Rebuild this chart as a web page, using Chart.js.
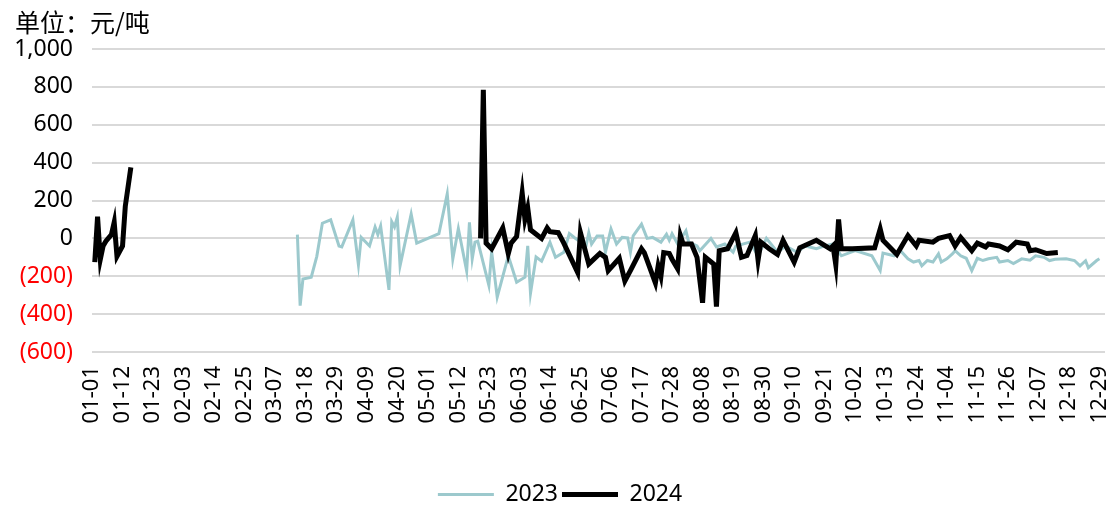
<!DOCTYPE html>
<html>
<head>
<meta charset="utf-8">
<script src="https://cdn.jsdelivr.net/npm/chart.js@4/dist/chart.umd.min.js"></script>
<style>
    body { margin: 0; background: #fff; }
</style>
</head>
<body>
<canvas id="spreadChart" width="1109" height="506"></canvas>
<script>
// x = day of year (01-01 = 0), tick every 11 days
const tickLabels = ['01-01', '01-12', '01-23', '02-03', '02-14', '02-25', '03-07', '03-18', '03-29', '04-09',
    '04-20', '05-01', '05-12', '05-23', '06-03', '06-14', '06-25', '07-06', '07-17', '07-28', '08-08', '08-19',
    '08-30', '09-10', '09-21', '10-02', '10-13', '10-24', '11-04', '11-15', '11-26', '12-07', '12-18', '12-29'];

const days2023 = [74, 75, 76, 79, 81, 83, 86, 89, 90, 94, 96, 97, 100, 102, 103, 104, 107, 108, 109, 110, 111, 115,
    117, 125, 128, 130, 132, 135, 136, 137, 138, 139, 143, 144, 146, 150, 153, 156, 157, 158, 160, 162, 165, 167,
    170, 172, 174, 178, 179, 180, 182, 184, 185, 187, 189, 191, 193, 194, 195, 198, 200, 202, 205, 207, 208, 209,
    211, 214, 215, 218, 219, 223, 225, 228, 231, 232, 237, 240, 243, 247, 250, 254, 257, 261, 264, 267, 270, 275,
    281, 284, 285, 289, 291, 294, 296, 298, 299, 301, 303, 305, 306, 308, 310, 311, 313, 315, 317, 319, 321, 323,
    326, 327, 330, 332, 335, 338, 340, 343, 345, 347, 351, 354, 356, 358, 359, 362, 363];
const vals2023 = [20, -355, -215, -205, -95, 80, 98, -40, -45, 98, -140, 5, -40, 60, 20, 65, -272, 88, 60, 112, -145, 128,
    -25, 25, 235, -110, 52, -172, 85, -108, -20, -15, -248, -70, -310, -92, -232, -205, -40, -290, -98, -120, -20, -100,
    -73, 25, 2, -40, 30, -30, 13, 13, -73, 50, -30, 5, 2, -73, 13, 75, 0, 5, -20, 22, -10, 25,
    -30, 40, -20, -40, -65, 0, -45, -30, -73, -40, -20, -92, 0, -73, -40, -73, -40, -55, -40, -30, -92, -65,
    -92, -170, -78, -92, -60, -108, -125, -117, -145, -117, -125, -82, -125, -108, -82, -65, -92, -105, -170, -105, -117, -108,
    -100, -125, -117, -133, -108, -115, -92, -100, -117, -110, -108, -117, -145, -118, -155, -117, -108];

const days2024 = [1, 2, 3, 4, 5, 7, 8, 9, 11, 12, 14,
    140, 141, 142, 144, 148, 150, 151, 153, 155, 156, 157, 158, 162, 164, 165, 168, 170, 175, 176, 179, 183, 185,
    186, 190, 192, 194, 198, 199, 203, 204, 205, 206, 208, 209, 211, 212, 213, 216, 218, 220, 221, 224, 225, 226,
    229, 232, 234, 236, 239, 240, 241, 244, 247, 249, 253, 255, 261, 266, 267, 268, 269, 270, 274, 282, 284, 285,
    290, 294, 297, 298, 303, 305, 309, 311, 313, 317, 319, 322, 323, 327, 330, 333, 337, 338, 340, 344, 348];
const vals2024 = [-125, 115, -110, -40, -15, 20, 85, -95, -40, 170, 375,
    0, 785, -25, -55, 55, -80, -25, 10, 240, 100, 160, 45, 0, 55, 35, 30, -25, -180, 30, -135, -80, -100,
    -170, -105, -225, -170, -55, -75, -235, -145, -200, -75, -80, -110, -160, 15, -30, -30, -100, -340, -100, -135, -360, -65,
    -55, 30, -100, -90, 15, -115, -20, -55, -85, -10, -125, -50, -10, -55, -40, -140, 100, -55, -55, -50, 50, -10,
    -85, 15, -40, -10, -20, 0, 15, -40, 5, -65, -25, -45, -30, -40, -60, -20, -30, -65, -60, -80, -75];

const toPoints = (days, vals) => days.map((d, i) => ({ x: d, y: vals[i] }));

Chart.defaults.font.family = '"Noto Sans", "Noto Sans CJK SC", sans-serif';
Chart.defaults.font.size = 23;
Chart.defaults.color = '#000';

const el = document.getElementById('spreadChart');

new Chart(el.getContext('2d'), {
    type: 'line',
    data: {
        datasets: [{
            label: '2023',
            data: toPoints(days2023, vals2023),
            borderColor: '#9cc9cd',
            backgroundColor: '#9cc9cd',
            borderWidth: 3,
            pointRadius: 0,
            spanGaps: true,
            order: 2,
        }, {
            label: '2024',
            data: toPoints(days2024, vals2024),
            borderColor: '#000',
            backgroundColor: '#000',
            borderWidth: 5,
            pointRadius: 0,
            spanGaps: 30,
            order: 1,
        }]
    },
    options: {
        responsive: false,
        animation: false,
        layout: { padding: { left: 15, right: 4, top: 0, bottom: -10 } },
        scales: {
            x: {
                type: 'linear',
                min: 0,
                max: 365,
                afterBuildTicks: (axis) => {
                    axis.ticks = tickLabels.map((_, i) => ({ value: i * 11 }));
                },
                afterFit: (axis) => {
                    axis.paddingLeft = 0;
                    axis.paddingRight = 0;
                    axis.height = 127;
                },
                grid: { display: false, drawTicks: false },
                border: { display: false },
                ticks: {
                    autoSkip: false,
                    minRotation: 90,
                    maxRotation: 90,
                    padding: 14,
                    font: { size: 22 },
                    callback: (value, index) => tickLabels[index],
                },
            },
            y: {
                min: -600,
                max: 1000,
                afterFit: (axis) => {
                    axis.width = 77;
                },
                grid: { color: '#d9d9d9', lineWidth: 2, drawTicks: false },
                border: { display: false },
                ticks: {
                    stepSize: 200,
                    padding: 19,
                    color: (ctx) => ctx.tick.value < 0 ? '#ff0000' : '#000',
                    callback: (value) => {
                        const txt = Math.abs(value).toLocaleString('en-US');
                        return value < 0 ? '(' + txt + ')' : txt;
                    },
                },
            },
        },
        plugins: {
            title: {
                display: true,
                text: '单位：元/吨',
                align: 'start',
                font: { family: '"Noto Sans CJK SC", sans-serif', size: 25, weight: 'normal' },
                padding: { top: 7, bottom: 12 },
            },
            legend: {
                position: 'bottom',
                labels: {
                    usePointStyle: true,
                    pointStyle: 'line',
                    pointStyleWidth: 56,
                    padding: 4,
                    sort: (a, b) => a.datasetIndex - b.datasetIndex,
                },
            },
            tooltip: { enabled: false },
        },
    },
});
</script>
</body>
</html>
